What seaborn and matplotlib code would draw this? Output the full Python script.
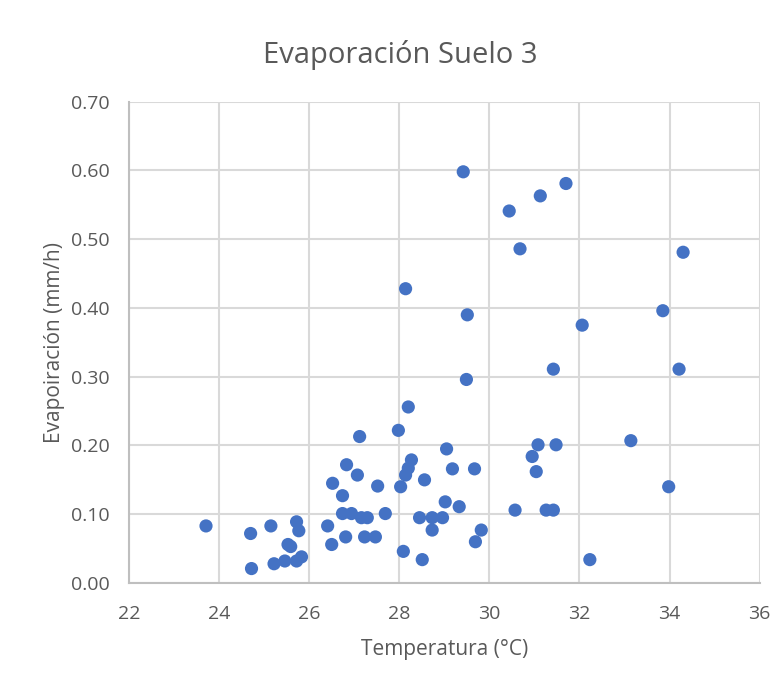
import matplotlib
matplotlib.use("Agg")
import matplotlib.pyplot as plt
import seaborn as sns
import pandas as pd

temperatura = [23.71, 24.70, 24.72, 25.15, 25.22, 25.46, 25.53, 25.59, 25.72, 25.83,
               25.72, 25.77, 26.41, 26.50, 26.81, 26.74, 26.94, 27.16, 27.29, 27.23,
               27.47, 27.69, 26.74, 26.52, 26.83, 27.07, 27.52, 27.12, 27.98, 28.03,
               28.20, 28.14, 28.27, 28.20, 28.14, 28.56, 29.05, 29.18, 29.67, 29.02,
               29.33, 28.45, 28.73, 28.96, 28.73, 29.82, 29.69, 28.09, 28.51, 29.42,
               29.51, 29.49, 30.44, 30.68, 31.13, 31.70, 30.57, 31.26, 31.42, 31.08,
               31.48, 30.95, 31.04, 31.42, 32.06, 32.23, 33.14, 33.85, 33.98, 34.21,
               34.30]
evaporacion = [0.083, 0.072, 0.021, 0.083, 0.028, 0.032, 0.056, 0.053, 0.032, 0.038,
               0.089, 0.076, 0.083, 0.056, 0.067, 0.101, 0.101, 0.095, 0.095, 0.067,
               0.067, 0.101, 0.127, 0.145, 0.172, 0.157, 0.141, 0.213, 0.222, 0.140,
               0.256, 0.428, 0.179, 0.167, 0.157, 0.150, 0.195, 0.166, 0.166, 0.118,
               0.111, 0.095, 0.095, 0.095, 0.077, 0.077, 0.060, 0.046, 0.034, 0.598,
               0.390, 0.296, 0.541, 0.486, 0.563, 0.581, 0.106, 0.106, 0.106, 0.201,
               0.201, 0.184, 0.162, 0.311, 0.375, 0.034, 0.207, 0.396, 0.140, 0.311,
               0.481]
x_ticks = [22, 24, 26, 28, 30, 32, 34, 36]
y_ticks = [0.0, 0.1, 0.2, 0.3, 0.4, 0.5, 0.6, 0.7]

df = pd.DataFrame({"Temperatura": temperatura, "Evaporacion": evaporacion})

sns.set_style("white")
plt.rcParams["font.family"] = ["Open Sans", "DejaVu Sans"]

fig = plt.figure(figsize=(7.84, 6.81), dpi=100)
ax = fig.add_axes([0.1645, 0.1439, 0.969 - 0.1645, 0.8507 - 0.1439])

sns.scatterplot(data=df, x="Temperatura", y="Evaporacion", ax=ax,
                color="#4472C4", s=90, edgecolor="none", zorder=3)

ax.set_xlim(22, 36)
ax.set_ylim(0, 0.7)
ax.set_xticks(x_ticks)
ax.set_yticks(y_ticks)
ax.set_xticklabels([str(t) for t in x_ticks])
ax.set_yticklabels([f"{t:.2f}" for t in y_ticks])
ax.grid(True, color="#D9D9D9", linewidth=1.5, zorder=0)
ax.set_axisbelow(True)
for side in ["top", "right"]:
    ax.spines[side].set_visible(False)
for side in ["left", "bottom"]:
    ax.spines[side].set_color("#BFBFBF")
    ax.spines[side].set_linewidth(1.5)
ax.tick_params(axis="both", length=0, labelsize=14, labelcolor="#595959")
ax.tick_params(axis="x", pad=16)
ax.tick_params(axis="y", pad=14)

ax.set_xlabel("Temperatura (°C)", fontsize=15, color="#595959", labelpad=11)
ax.set_ylabel("Evapoiración (mm/h)", fontsize=15, color="#595959", labelpad=4)
fig.text(0.510, 1 - 63 / 681, "Evaporación Suelo 3", ha="center", va="baseline",
         fontsize=21, color="#595959")

fig.savefig("out.png", dpi=100)
